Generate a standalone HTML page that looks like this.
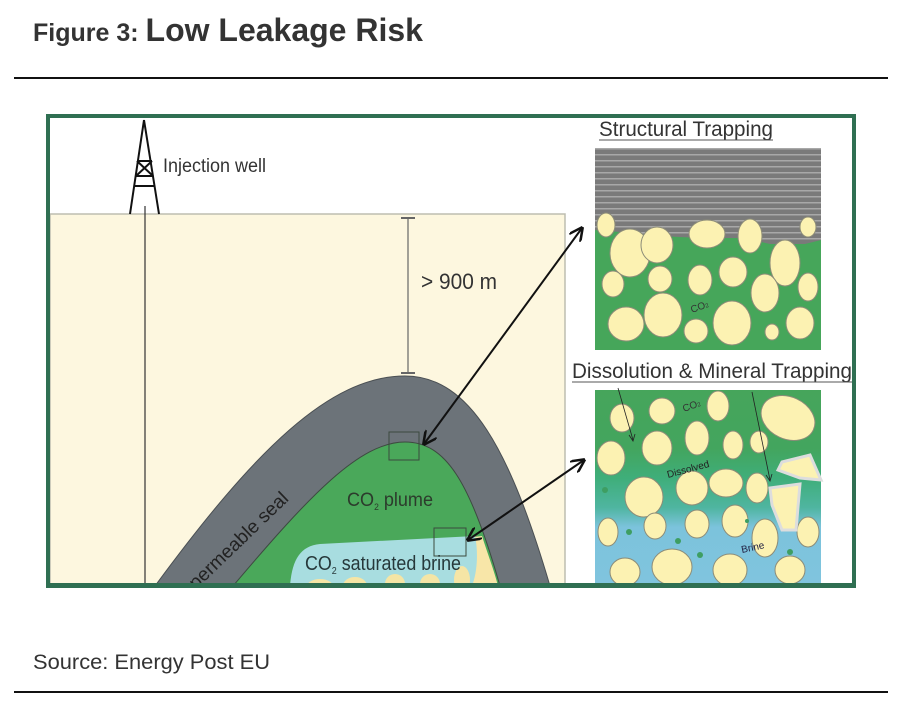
<!DOCTYPE html>
<html><head><meta charset="utf-8"><style>
html,body{margin:0;padding:0;background:#fff;width:912px;height:712px;overflow:hidden;font-family:"Liberation Sans",Arial,sans-serif;}
svg{display:block}
</style></head><body>
<svg width="912" height="712" viewBox="0 0 912 712" xmlns="http://www.w3.org/2000/svg">
<defs>
<pattern id="stripes" width="10" height="6" patternUnits="userSpaceOnUse">
<rect width="10" height="6" fill="#7a7a7a"/><rect y="4" width="10" height="1.5" fill="#a8a8a8"/>
</pattern>
<linearGradient id="dg" x1="0" y1="0" x2="0" y2="1">
<stop offset="0" stop-color="#46a55b"/><stop offset="0.3" stop-color="#43a55e"/>
<stop offset="0.45" stop-color="#3fae7a"/><stop offset="0.6" stop-color="#4fb5a0"/>
<stop offset="0.7" stop-color="#7cc3dc"/><stop offset="1" stop-color="#80c4de"/>
</linearGradient>
<clipPath id="fc"><rect x="48" y="116" width="806" height="468"/></clipPath>
<marker id="ah" viewBox="0 0 10 10" refX="9" refY="5" markerWidth="7" markerHeight="7" orient="auto-start-reverse">
<path d="M0,0 L10,5 L0,10" fill="none" stroke="#111" stroke-width="1.8"/>
</marker>
</defs>

<text x="33" y="41" font-size="25" font-weight="bold" fill="#333">Figure 3: <tspan font-size="32">Low Leakage Risk</tspan></text>
<rect x="14" y="77" width="874" height="2" fill="#111"/>

<rect x="48" y="116" width="806" height="468" fill="#fff"/>
<g clip-path="url(#fc)">
<rect x="50" y="214" width="515" height="372" fill="#fdf7df" stroke="#bdbdb0" stroke-width="1.5"/>

<path d="M155 586 C 255 450, 330 376, 405 376 C 470 376, 510 450, 550 586 Z" fill="#6c7379" stroke="#4a4f53" stroke-width="1"/>
<path d="M233 586 C 310 495, 360 442, 405 442 C 445 442, 470 480, 500 586 Z" fill="#4aa85a" stroke="#3d4a40" stroke-width="1"/>
<path d="M465 538 L482 536 C 488 555, 494 570, 498 586 L465 586 Z" fill="#f8e6a8"/>
<path d="M290 586 C 292 560, 300 546, 320 544 L475 536 C 478 550, 478 570, 472 586 Z" fill="#a8dde0"/>
<ellipse cx="320" cy="588" rx="14" ry="9" fill="#f5e5a5"/>
<ellipse cx="355" cy="586" rx="12" ry="9" fill="#f5e5a5"/>
<ellipse cx="395" cy="584" rx="10" ry="10" fill="#f5e5a5"/>
<ellipse cx="430" cy="584" rx="10" ry="10" fill="#f5e5a5"/>
<ellipse cx="462" cy="580" rx="8" ry="14" fill="#f5e5a5"/>

<rect x="389" y="432" width="30" height="28" fill="none" stroke="#3b4a3e" stroke-width="1"/>
<rect x="434" y="528" width="32" height="28" fill="none" stroke="#3b4a3e" stroke-width="1"/>

<text x="347" y="506" font-size="19" fill="#2c3b2c" textLength="86" lengthAdjust="spacingAndGlyphs">CO<tspan font-size="9" dy="4">2</tspan><tspan dy="-4"> plume</tspan></text>
<text x="305" y="570" font-size="20" fill="#26383a" textLength="156" lengthAdjust="spacingAndGlyphs">CO<tspan font-size="10" dy="4">2</tspan><tspan dy="-4"> saturated brine</tspan></text>
<text x="0" y="0" font-size="19" fill="#222" transform="translate(196,590) rotate(-44)" textLength="130" lengthAdjust="spacingAndGlyphs">permeable seal</text>

<line x1="145" y1="206" x2="145" y2="586" stroke="#333" stroke-width="1.2"/>
<g stroke="#111" stroke-width="2" fill="none">
<line x1="144" y1="120" x2="130" y2="214"/><line x1="144" y1="120" x2="159" y2="214"/>
<line x1="137" y1="161" x2="152" y2="161"/><line x1="136" y1="176" x2="153" y2="176"/>
<line x1="134" y1="186" x2="155" y2="186"/>
<line x1="137" y1="161" x2="153" y2="176"/><line x1="152" y1="161" x2="136" y2="176"/>
</g>
<text x="163" y="172" font-size="19" fill="#333" textLength="103" lengthAdjust="spacingAndGlyphs">Injection well</text>

<g stroke="#666" stroke-width="1.2">
<line x1="408" y1="218" x2="408" y2="373"/>
<line x1="401" y1="218" x2="415" y2="218" stroke-width="2"/>
<line x1="401" y1="373" x2="415" y2="373" stroke-width="2"/>
</g>
<text x="421" y="289" font-size="22" fill="#333" textLength="76" lengthAdjust="spacingAndGlyphs">&gt; 900 m</text>

<text x="599" y="136" font-size="21" fill="#333" textLength="174" lengthAdjust="spacingAndGlyphs">Structural Trapping</text>
<line x1="599" y1="140" x2="773" y2="140" stroke="#555" stroke-width="1"/>
<rect x="595" y="148" width="226" height="202" fill="#46a65a"/>
<path d="M595 148 H821 V240 L805 244 H770 L745 238 H700 L660 236 L620 232 L595 230 Z" fill="url(#stripes)"/>
<g fill="#fcf2b2" stroke="#8c8c78" stroke-width="1">
<ellipse cx="606" cy="225" rx="9" ry="12"/><ellipse cx="630" cy="253" rx="20" ry="24"/>
<ellipse cx="657" cy="245" rx="16" ry="18"/><ellipse cx="707" cy="234" rx="18" ry="14"/>
<ellipse cx="750" cy="236" rx="12" ry="17"/><ellipse cx="785" cy="263" rx="15" ry="23"/>
<ellipse cx="808" cy="227" rx="8" ry="10"/><ellipse cx="613" cy="284" rx="11" ry="13"/>
<ellipse cx="660" cy="279" rx="12" ry="13"/><ellipse cx="700" cy="280" rx="12" ry="15"/>
<ellipse cx="733" cy="272" rx="14" ry="15"/><ellipse cx="765" cy="293" rx="14" ry="19"/>
<ellipse cx="808" cy="287" rx="10" ry="14"/><ellipse cx="626" cy="324" rx="18" ry="17"/>
<ellipse cx="663" cy="315" rx="19" ry="22"/><ellipse cx="696" cy="331" rx="12" ry="12"/>
<ellipse cx="732" cy="323" rx="19" ry="22"/><ellipse cx="772" cy="332" rx="7" ry="8"/>
<ellipse cx="800" cy="323" rx="14" ry="16"/>
</g>
<text x="692" y="313" font-size="10" fill="#333" transform="rotate(-20 692 313)">CO<tspan font-size="6">2</tspan></text>

<text x="572" y="378" font-size="21" fill="#333" textLength="280" lengthAdjust="spacingAndGlyphs">Dissolution &amp; Mineral Trapping</text>
<line x1="572" y1="382" x2="852" y2="382" stroke="#555" stroke-width="1"/>
<rect x="595" y="390" width="226" height="196" fill="url(#dg)"/>
<g fill="#fcf2b2" stroke="#8c8c78" stroke-width="1">
<ellipse cx="622" cy="418" rx="12" ry="14"/><ellipse cx="662" cy="411" rx="13" ry="13"/>
<ellipse cx="718" cy="406" rx="11" ry="15"/><ellipse cx="788" cy="418" rx="28" ry="21" transform="rotate(25 788 418)"/>
<ellipse cx="611" cy="458" rx="14" ry="17"/><ellipse cx="657" cy="448" rx="15" ry="17"/>
<ellipse cx="697" cy="438" rx="12" ry="17"/><ellipse cx="733" cy="445" rx="10" ry="14"/>
<ellipse cx="759" cy="442" rx="9" ry="11"/>
<ellipse cx="644" cy="497" rx="19" ry="20"/><ellipse cx="692" cy="488" rx="16" ry="17"/>
<ellipse cx="726" cy="483" rx="17" ry="14"/><ellipse cx="757" cy="488" rx="11" ry="15"/>
<ellipse cx="608" cy="532" rx="10" ry="14"/><ellipse cx="655" cy="526" rx="11" ry="13"/>
<ellipse cx="697" cy="524" rx="12" ry="14"/><ellipse cx="735" cy="521" rx="13" ry="16"/>
<ellipse cx="765" cy="538" rx="13" ry="19"/><ellipse cx="808" cy="532" rx="11" ry="15"/>
<ellipse cx="625" cy="572" rx="15" ry="14"/><ellipse cx="672" cy="567" rx="20" ry="18"/>
<ellipse cx="730" cy="570" rx="17" ry="16"/><ellipse cx="790" cy="570" rx="15" ry="14"/>
</g>
<g fill="#fcf2b2" stroke="#ddd" stroke-width="3">
<path d="M782 462 L810 455 L821 480 L800 478 L778 470 Z"/>
<path d="M770 488 L800 484 L796 530 L782 530 L772 505 Z"/>
</g>
<g fill="#3e9e62"><circle cx="605" cy="490" r="3"/><circle cx="629" cy="532" r="3"/><circle cx="678" cy="541" r="3"/><circle cx="700" cy="555" r="3"/><circle cx="747" cy="521" r="2"/><circle cx="790" cy="552" r="3"/></g>
<text x="684" y="412" font-size="10" fill="#333" transform="rotate(-20 684 412)">CO<tspan font-size="6">2</tspan></text>
<text x="668" y="478" font-size="10" fill="#222" transform="rotate(-15 668 478)">Dissolved</text>
<text x="742" y="553" font-size="10" fill="#224" transform="rotate(-12 742 553)">Brine</text>
<g stroke="#222" stroke-width="0.8" fill="none">
<line x1="618" y1="388" x2="633" y2="440"/><path d="M629 435 L633 441 L635 434"/>
<line x1="752" y1="392" x2="770" y2="480"/><path d="M766 475 L770 481 L772 474"/>
</g>

<line x1="424" y1="444" x2="582" y2="228" stroke="#111" stroke-width="2" marker-start="url(#ah)" marker-end="url(#ah)"/>
<line x1="468" y1="540" x2="584" y2="460" stroke="#111" stroke-width="2" marker-start="url(#ah)" marker-end="url(#ah)"/>
</g>

<rect x="48" y="116" width="806" height="469" fill="none" stroke="#2f6f52" stroke-width="4"/>
<rect x="46" y="584" width="810" height="4" fill="#2f6f52"/>

<text x="33" y="669" font-size="21" fill="#333" textLength="237" lengthAdjust="spacingAndGlyphs">Source: Energy Post EU</text>
<rect x="14" y="691" width="874" height="2" fill="#111"/>
</svg>
</body></html>
